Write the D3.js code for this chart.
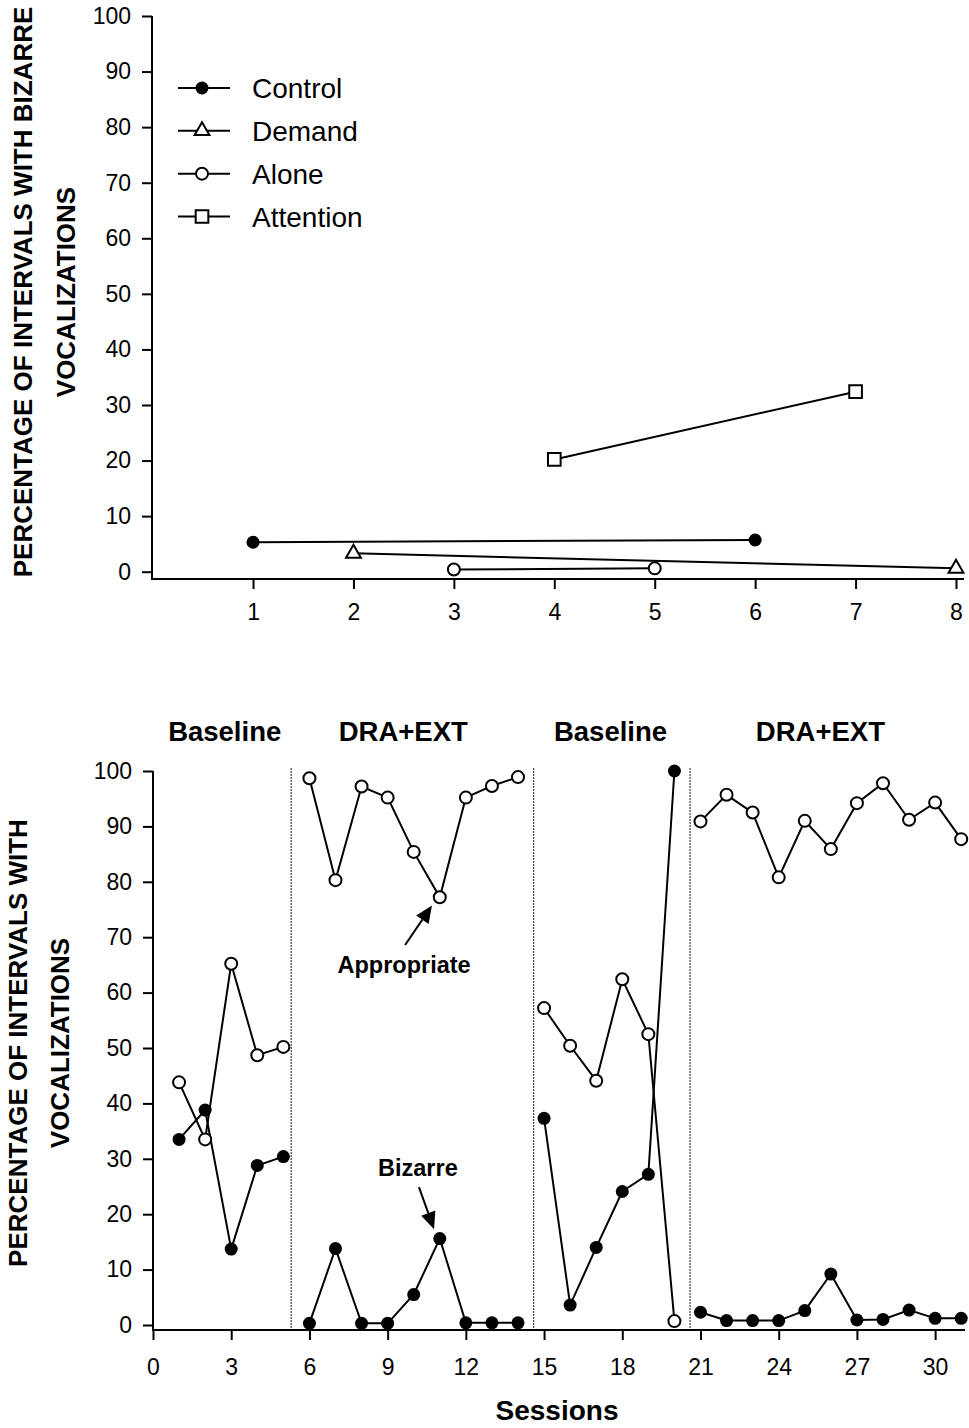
<!DOCTYPE html>
<html>
<head>
<meta charset="utf-8">
<script src="https://cdn.jsdelivr.net/npm/d3@7"></script>
<style>
	html, body { margin: 0; padding: 0; background: white; }
	svg { display: block; }
	text { font-family: "Liberation Sans", Arial, sans-serif; fill: black; }
</style>
</head>
<body>
<script>
// top panel: functional analysis, [session, percentage]
const controlTop = [[1, 5.3], [6, 5.7]];
const demandTop = [[2, 3.3], [8, 0.6]];
const aloneTop = [[3, 0.4], [5, 0.6]];
const attentionTop = [[4, 20.2], [7, 32.4]];
const topTicksX = [1, 2, 3, 4, 5, 6, 7, 8];

const legendNames = ["Control", "Demand", "Alone", "Attention"];

// bottom panel: treatment, one value per session
const sessions = d3.range(1, 32);
const bizarre = [33.5, 38.8, 13.7, 28.8, 30.4, 0.3, 13.8, 0.3, 0.3, 5.5, 15.6, 0.4, 0.4, 0.4,
	37.3, 3.6, 14.0, 24.1, 27.2, 100, 2.3, 0.8, 0.8, 0.8, 2.6, 9.2, 0.9, 1.0, 2.7, 1.2, 1.2];
const appropriate = [43.8, 33.5, 65.2, 48.7, 50.2, 98.7, 80.3, 97.2, 95.2, 85.4, 77.2, 95.2, 97.3, 98.9,
	57.2, 50.4, 44.1, 62.4, 52.5, 0.7, 90.9, 95.7, 92.5, 80.8, 91.0, 85.9, 94.2, 97.8, 91.2, 94.3, 87.7];
const phaseBreaks = [5.3, 14.6, 20.6];
const phaseNames = ["Baseline", "DRA+EXT", "Baseline", "DRA+EXT"];
const phaseLabelAt = [2.75, 9.6, 17.55, 25.6];
const bottomTicksX = d3.range(0, 31, 3);
const ticksY = d3.range(0, 101, 10);

// annotations in data units: label position, arrow start, arrow tip
const notes = [
	{ text: "Appropriate", at: [9.63, 63.5], from: [9.67, 68.6], to: [10.7, 75.7] },
	{ text: "Bizarre", at: [10.16, 26.9], from: [10.2, 24.9], to: [10.78, 17.3] }
];

const W = 969, H = 1428;
const svg = d3.select("body").append("svg").attr("width", W).attr("height", H);

const LINE_W = 2;
const TICK_FONT = 23;

function drawMarker(g, type, x, y) {
	if (type === "filled") {
		g.append("circle").attr("cx", x).attr("cy", y).attr("r", 6.5).attr("fill", "black");
	} else if (type === "open") {
		g.append("circle").attr("cx", x).attr("cy", y).attr("r", 6)
			.attr("fill", "white").attr("stroke", "black").attr("stroke-width", 2);
	} else if (type === "triangle") {
		g.append("path").attr("d", d3.symbol(d3.symbolTriangle, 95)())
			.attr("transform", `translate(${x},${y})`)
			.attr("fill", "white").attr("stroke", "black").attr("stroke-width", 2);
	} else if (type === "square") {
		g.append("path").attr("d", d3.symbol(d3.symbolSquare, 160)())
			.attr("transform", `translate(${x},${y})`)
			.attr("fill", "white").attr("stroke", "black").attr("stroke-width", 2);
	}
}

function yAxis(scale, x, yTop, yBottom) {
	const g = svg.append("g").attr("transform", `translate(${x},0)`);
	g.call(d3.axisLeft(scale).tickValues(ticksY).tickSize(10).tickPadding(11).tickSizeOuter(0));
	g.select(".domain").remove();
	g.selectAll(".tick line").attr("stroke-width", 2);
	g.selectAll(".tick text").attr("font-size", TICK_FONT).style("font-family", "Liberation Sans, Arial, sans-serif");
	g.append("line").attr("y1", yTop).attr("y2", yBottom).attr("stroke", "black").attr("stroke-width", LINE_W);
}

function xAxis(scale, y, ticks, x0, x1, pad) {
	const g = svg.append("g").attr("transform", `translate(0,${y})`);
	g.call(d3.axisBottom(scale).tickValues(ticks).tickSize(10).tickPadding(pad).tickSizeOuter(0));
	g.select(".domain").remove();
	g.selectAll(".tick line").attr("stroke-width", 2);
	g.selectAll(".tick text").attr("font-size", TICK_FONT).style("font-family", "Liberation Sans, Arial, sans-serif");
	g.append("line").attr("x1", x0).attr("x2", x1).attr("stroke", "black").attr("stroke-width", LINE_W);
}

function yTitle(lines, xs, cy) {
	lines.forEach((t, i) => {
		svg.append("text")
			.attr("transform", `translate(${xs[i]},${cy}) rotate(-90)`)
			.attr("text-anchor", "middle")
			.attr("dy", "0.36em")
			.attr("font-size", 26)
			.attr("font-weight", "bold")
			.text(t);
	});
}

// ---------- top panel ----------
const xT = d3.scaleLinear().domain([0, 8]).range([152.6, 956]);
const yT = d3.scaleLinear().domain([0, 100]).range([571.7, 16]);

yAxis(yT, 152, 16, 580);
xAxis(xT, 579, topTicksX, 151, 964, 15);
yTitle(["PERCENTAGE OF INTERVALS WITH BIZARRE", "VOCALIZATIONS"], [23, 66], 292);

const line = d3.line();
const topSeries = [
	{ data: controlTop, type: "filled" },
	{ data: demandTop, type: "triangle" },
	{ data: aloneTop, type: "open" },
	{ data: attentionTop, type: "square" }
];
const gTop = svg.append("g");
topSeries.forEach(s => {
	gTop.append("path")
		.attr("d", line(s.data.map(d => [xT(d[0]), yT(d[1])])))
		.attr("fill", "none").attr("stroke", "black").attr("stroke-width", LINE_W);
});
topSeries.forEach(s => {
	s.data.forEach(d => drawMarker(gTop, s.type, xT(d[0]), yT(d[1])));
});

// legend
const legendY = d3.scalePoint().domain(legendNames).range([88, 216.5]);
const gLeg = svg.append("g");
legendNames.forEach((name, i) => {
	const y = legendY(name);
	gLeg.append("line").attr("x1", 178).attr("x2", 230).attr("y1", y).attr("y2", y)
		.attr("stroke", "black").attr("stroke-width", LINE_W);
	drawMarker(gLeg, topSeries[i].type, 202, y);
	gLeg.append("text").attr("x", 252).attr("y", y).attr("dy", "0.36em")
		.attr("font-size", 28).text(name);
});

// ---------- bottom panel ----------
const xB = d3.scaleLinear().domain([0, 31]).range([153, 961.2]);
const yB = d3.scaleLinear().domain([0, 100]).range([1325, 771]);

yAxis(yB, 153, 771, 1331);
xAxis(xB, 1330, bottomTicksX, 152, 965, 19);
yTitle(["PERCENTAGE OF INTERVALS WITH", "VOCALIZATIONS"], [18, 60], 1043);

svg.append("text").attr("x", 557).attr("y", 1420).attr("text-anchor", "middle")
	.attr("font-size", 28).attr("font-weight", "bold").text("Sessions");

// phase change lines
svg.append("g").selectAll("line")
	.data(phaseBreaks)
	.join("line")
	.attr("x1", d => xB(d)).attr("x2", d => xB(d))
	.attr("y1", yB(100.5)).attr("y2", 1330)
	.attr("stroke", "black").attr("stroke-width", 1.2)
	.attr("stroke-dasharray", "1.5,1.5");

svg.append("g").selectAll("text")
	.data(phaseNames)
	.join("text")
	.attr("x", (d, i) => xB(phaseLabelAt[i]))
	.attr("y", 741)
	.attr("text-anchor", "middle")
	.attr("font-size", 27.5)
	.attr("font-weight", "bold")
	.text(d => d);

// split a series into phases so lines break at phase changes
const bounds = [0, ...phaseBreaks, 99];
function phaseSegments(values) {
	const segs = [];
	for (let p = 0; p < bounds.length - 1; p++) {
		segs.push(sessions
			.map((s, i) => [s, values[i]])
			.filter(d => d[0] > bounds[p] && d[0] < bounds[p + 1]));
	}
	return segs;
}

const gBot = svg.append("g");
[bizarre, appropriate].forEach(vals => {
	phaseSegments(vals).forEach(seg => {
		gBot.append("path")
			.attr("d", line(seg.map(d => [xB(d[0]), yB(d[1])])))
			.attr("fill", "none").attr("stroke", "black").attr("stroke-width", LINE_W);
	});
});
sessions.forEach((s, i) => drawMarker(gBot, "open", xB(s), yB(appropriate[i])));
sessions.forEach((s, i) => drawMarker(gBot, "filled", xB(s), yB(bizarre[i])));

// annotations with arrows
notes.forEach(n => {
	svg.append("text").attr("x", xB(n.at[0])).attr("y", yB(n.at[1]))
		.attr("text-anchor", "middle").attr("font-size", 23.5).attr("font-weight", "bold")
		.text(n.text);
	const x1 = xB(n.from[0]), y1 = yB(n.from[1]);
	const x2 = xB(n.to[0]), y2 = yB(n.to[1]);
	const ang = Math.atan2(y2 - y1, x2 - x1);
	const headLen = 17, headW = 7.5;
	const bx = x2 - headLen * Math.cos(ang), by = y2 - headLen * Math.sin(ang);
	svg.append("line").attr("x1", x1).attr("y1", y1).attr("x2", bx).attr("y2", by)
		.attr("stroke", "black").attr("stroke-width", 2);
	const px = -Math.sin(ang) * headW, py = Math.cos(ang) * headW;
	svg.append("path")
		.attr("d", `M${x2},${y2}L${bx + px},${by + py}L${bx - px},${by - py}Z`)
		.attr("fill", "black");
});
</script>
</body>
</html>
